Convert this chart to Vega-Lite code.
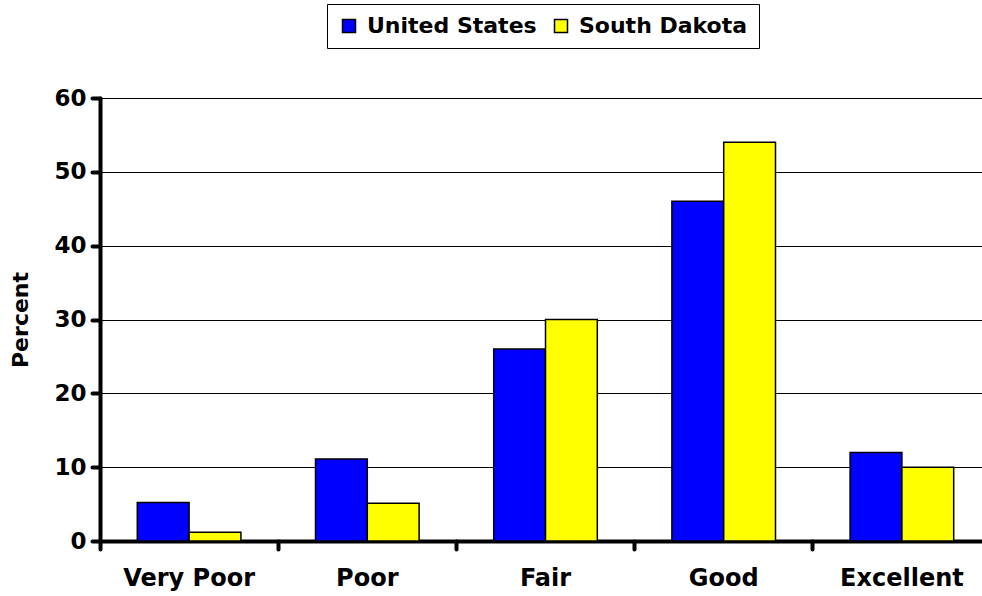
{
  "$schema": "https://vega.github.io/schema/vega-lite/v6.json",
  "autosize": "none",
  "padding": {"left": 100, "top": 98, "right": 0, "bottom": 55},
  "width": 882,
  "height": 443,
  "background": "white",
  "data": {
    "values": [
      {"rating": "Very Poor", "area": "United States", "percent": 5.2},
      {"rating": "Very Poor", "area": "South Dakota", "percent": 1.2},
      {"rating": "Poor", "area": "United States", "percent": 11.1},
      {"rating": "Poor", "area": "South Dakota", "percent": 5.1},
      {"rating": "Fair", "area": "United States", "percent": 26},
      {"rating": "Fair", "area": "South Dakota", "percent": 30},
      {"rating": "Good", "area": "United States", "percent": 46},
      {"rating": "Good", "area": "South Dakota", "percent": 54},
      {"rating": "Excellent", "area": "United States", "percent": 12},
      {"rating": "Excellent", "area": "South Dakota", "percent": 10}
    ]
  },
  "mark": {"type": "bar", "stroke": "black", "strokeWidth": 1.5},
  "encoding": {
    "x": {
      "field": "rating",
      "type": "nominal",
      "sort": ["Very Poor", "Poor", "Fair", "Good", "Excellent"],
      "scale": {"range": [0, 891], "paddingInner": 0, "paddingOuter": 0},
      "axis": {
        "title": null,
        "labelAngle": 0,
        "bandPosition": 0,
        "domainColor": "black",
        "domainWidth": 4,
        "domainCap": "round",
        "tickColor": "black",
        "tickWidth": 4,
        "tickSize": 8,
        "tickCap": "round",
        "labelFont": "DejaVu Sans",
        "labelFontWeight": "bold",
        "labelFontSize": 24,
        "labelColor": "black",
        "labelPadding": 17
      }
    },
    "xOffset": {
      "field": "area",
      "type": "nominal",
      "sort": ["United States", "South Dakota"],
      "scale": {"paddingInner": 0, "paddingOuter": 0.72}
    },
    "y": {
      "field": "percent",
      "type": "quantitative",
      "scale": {"domain": [0, 60], "nice": false},
      "axis": {
        "title": "Percent",
        "values": [0, 10, 20, 30, 40, 50, 60],
        "grid": true,
        "gridColor": "black",
        "gridWidth": 1,
        "gridOpacity": 1,
        "domainColor": "black",
        "domainWidth": 4,
        "domainCap": "round",
        "tickColor": "black",
        "tickWidth": 4,
        "tickSize": 8,
        "tickCap": "round",
        "labelFont": "DejaVu Sans",
        "labelFontWeight": "bold",
        "labelFontSize": 23,
        "labelColor": "black",
        "labelPadding": 6,
        "titleFont": "DejaVu Sans",
        "titleFontWeight": "bold",
        "titleFontSize": 22,
        "titleColor": "black",
        "titlePadding": 21
      }
    },
    "color": {
      "field": "area",
      "type": "nominal",
      "sort": ["United States", "South Dakota"],
      "scale": {"domain": ["United States", "South Dakota"], "range": ["#0000FF", "#FFFF00"]},
      "legend": {
        "title": null,
        "orient": "none",
        "legendX": 227,
        "legendY": -94,
        "direction": "horizontal",
        "columns": 2,
        "strokeColor": "black",
        "padding": 11,
        "symbolType": "square",
        "symbolSize": 169,
        "symbolStrokeColor": "black",
        "symbolStrokeWidth": 1.5,
        "symbolOpacity": 1,
        "labelFont": "DejaVu Sans",
        "labelFontWeight": "bold",
        "labelFontSize": 22,
        "labelColor": "black",
        "labelOffset": 7,
        "columnPadding": 13,
        "labelLimit": 400
      }
    }
  },
  "config": {"view": {"stroke": null}}
}
